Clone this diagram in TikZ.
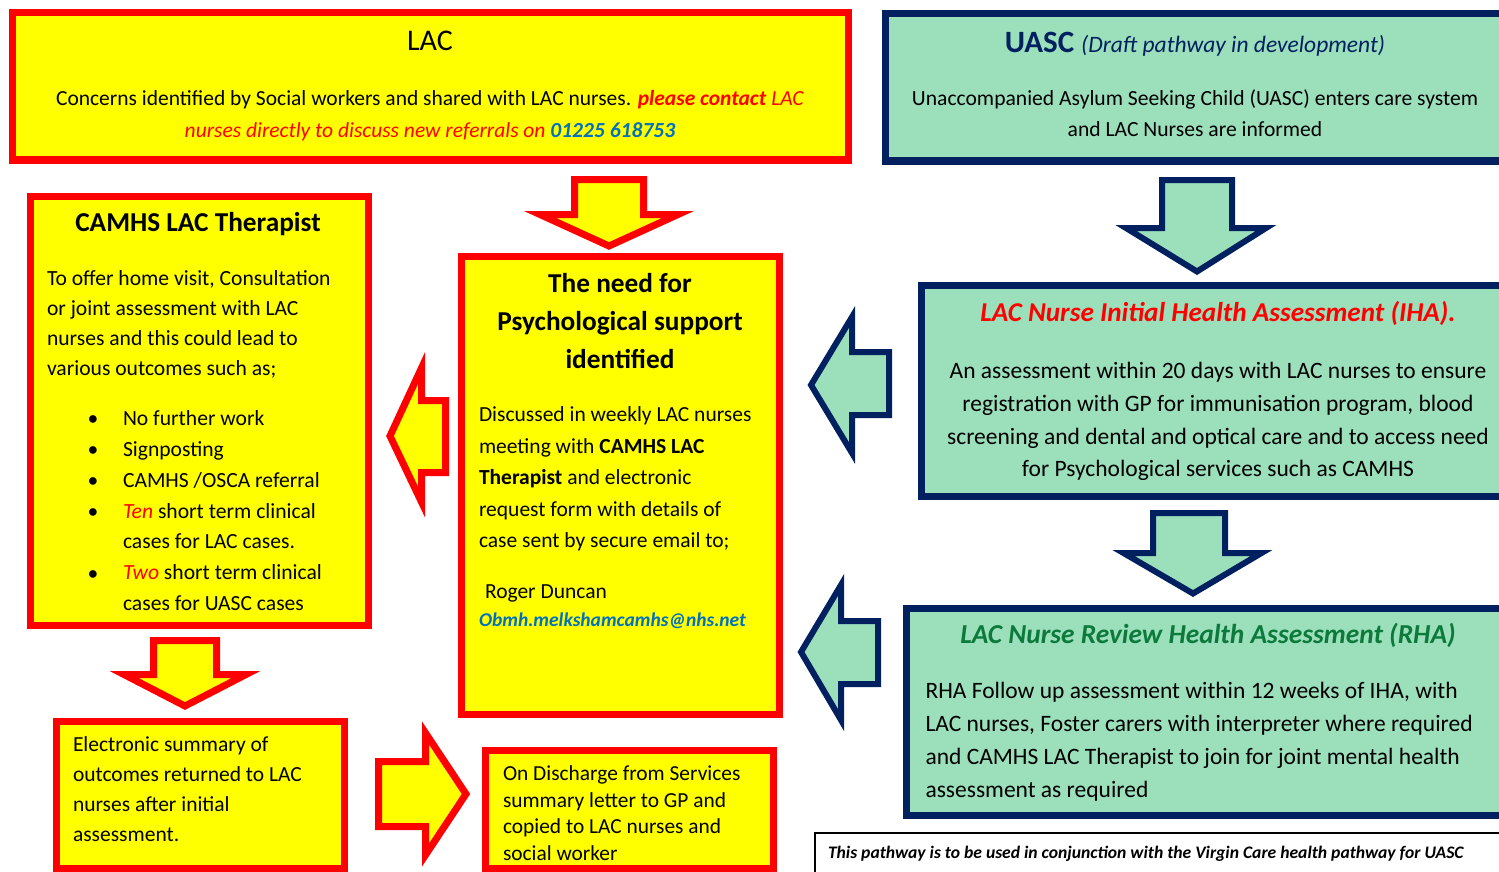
\documentclass[tikz,border=0pt]{standalone}
\usepackage{fontspec}
\setmainfont{Carlito}
\definecolor{lacyellow}{HTML}{FFFF00}
\definecolor{lacred}{HTML}{FF0000}
\definecolor{uascgreen}{HTML}{9BDFBB}
\definecolor{uascnavy}{HTML}{002060}
\definecolor{linkblue}{HTML}{0070C0}
\definecolor{rhagreen}{HTML}{0B7A3B}
\tikzset{
  redbox/.style={draw=lacred, fill=lacyellow, line width=7pt, inner sep=0pt, outer sep=0pt, anchor=north west},
  navybox/.style={draw=uascnavy, fill=uascgreen, line width=7pt, inner sep=0pt, outer sep=0pt, anchor=north west},
  redarrow/.style={draw=lacred, fill=lacyellow, line width=7pt, line join=miter, miter limit=10},
  navyarrow/.style={draw=uascnavy, fill=uascgreen, line width=6pt, line join=miter, miter limit=10},
  txt/.style={inner sep=0pt, outer sep=0pt},
}
\newcommand{\fs}[2]{\fontsize{#1}{#2}\selectfont}
\begin{document}
\begin{tikzpicture}[x=1pt,y=-1pt]
\useasboundingbox (0,0) rectangle (1499,872);
\clip (0,0) rectangle (1499,872);
% ---------- boxes ----------
\node[redbox, minimum width=836pt, minimum height=147pt] (lac) at (12,13) {};
\node[navybox, minimum width=624.5pt, minimum height=147.5pt] (uasc) at (885.5,13.5) {};
\node[redbox, minimum width=338pt, minimum height=429pt] (camhs) at (30.5,196.5) {};
\node[redbox, minimum width=318pt, minimum height=458pt] (psych) at (461.5,256.5) {};
\node[navybox, minimum width=588.5pt, minimum height=211pt] (iha) at (921.5,285.5) {};
\node[navybox, minimum width=603.5pt, minimum height=207pt] (rha) at (906.5,608.5) {};
\node[redbox, minimum width=288pt, minimum height=147pt] (elec) at (56.5,721.5) {};
\node[redbox, minimum width=288pt, minimum height=118pt] (disc) at (485.5,750.5) {};
\node[draw=black, line width=1.2pt, inner sep=0pt, outer sep=0pt, anchor=north west, minimum width=695pt, minimum height=67pt] (foot) at (815,833) {};
% ---------- block arrows ----------
\path[redarrow] (574.5,179.5) -- (643.5,179.5) -- (643.5,214.5) -- (678,214.5) -- (609,246) -- (540,214.5) -- (574.5,214.5) -- cycle;
\path[redarrow] (390,436) -- (421.5,368) -- (421.5,400.5) -- (445.5,400.5) -- (445.5,472.5) -- (421.5,472.5) -- (421.5,502) -- cycle;
\path[redarrow] (153.5,640.5) -- (216.5,640.5) -- (216.5,674.5) -- (246,674.5) -- (185,706) -- (124,674.5) -- (153.5,674.5) -- cycle;
\path[redarrow] (378.5,761.5) -- (425.5,761.5) -- (425.5,733) -- (466,794) -- (425.5,855) -- (425.5,826.5) -- (378.5,826.5) -- cycle;
\path[navyarrow] (1162,180) -- (1232,180) -- (1232,228) -- (1266,228) -- (1197,271.5) -- (1126,228) -- (1162,228) -- cycle;
\path[navyarrow] (1153,513) -- (1225,513) -- (1225,553) -- (1261.5,553) -- (1193,593.5) -- (1123.5,553) -- (1153,553) -- cycle;
\path[navyarrow] (811,385) -- (852,317) -- (852,352) -- (889,352) -- (889,415) -- (852,415) -- (852,453) -- cycle;
\path[navyarrow] (801,652) -- (841,585) -- (841,621) -- (878,621) -- (878,684) -- (841,684) -- (841,720) -- cycle;
% ---------- LAC (multi-line nodes: base = last line baseline) ----------
\node[txt, anchor=base, font=\fs{30}{32}] (lacT) at (430,51) {LAC};
\node[txt, anchor=base, font=\fs{21.5}{31.5}, align=center] (lacB) at (430,137.5)
  {Concerns identified by Social workers and shared with LAC nurses. {\color{lacred}\textbf{\textit{please contact}} \textit{LAC}}\\
   {\color{lacred}\textit{nurses directly to discuss new referrals on}} {\color{linkblue}\textbf{\textit{01225 618753}}}};
% ---------- UASC ----------
\node[txt, anchor=base, text=uascnavy] (uascT) at (1195,53) {{\fs{31}{34}\textbf{UASC}}\hspace{7pt}{\fs{23.5}{34}\textit{(Draft pathway in development)}}};
\node[txt, anchor=base, font=\fs{21.6}{31}, align=center] (uascB) at (1195,137)
  {Unaccompanied Asylum Seeking Child (UASC) enters care system\\ and LAC Nurses are informed};
% ---------- CAMHS ----------
\node[txt, anchor=base, font=\fs{27.3}{30}\bfseries] (camhsT) at (198,231.7) {CAMHS LAC Therapist};
\node[txt, anchor=base west, font=\fs{21.6}{30}, align=left] (camhsB) at (47,375)
  {To offer home visit, Consultation\\ or joint assessment with LAC\\ nurses and this could lead to\\ various outcomes such as;};
\node[txt, anchor=base, font=\fs{21.6}{30.9}, align=center] (camhsBul) at (93,580)
  {•\\ •\\ •\\ •\\ \strut\\ •};
\node[txt, anchor=base west, font=\fs{21.6}{30.9}, align=left] (camhsL) at (123,610.7)
  {No further work\\ Signposting\\ CAMHS /OSCA referral\\ {\color{lacred}\textit{Ten}} short term clinical\\ cases for LAC cases.\\ {\color{lacred}\textit{Two}} short term clinical\\ cases for UASC cases};
% ---------- Psychological ----------
\node[txt, anchor=base, font=\fs{27.3}{37.8}\bfseries, align=center] (psychT) at (620,368.3)
  {The need for\\ Psychological support\\ identified};
\node[txt, anchor=base west, font=\fs{21.5}{31.5}, align=left] (psychB) at (479,547.7)
  {Discussed in weekly LAC nurses\\ meeting with \textbf{CAMHS LAC}\\ \textbf{Therapist} and electronic\\ request form with details of\\ case sent by secure email to;};
\node[txt, anchor=base west, font=\fs{21.5}{30}] (psychR) at (485,598.3) {Roger Duncan};
\node[txt, anchor=base west, font=\fs{19.5}{30}\bfseries\itshape, text=linkblue] (psychE) at (479,626.7) {Obmh.melkshamcamhs@nhs.net};
% ---------- IHA ----------
\node[txt, anchor=base, font=\fs{27.2}{30}\bfseries\itshape, text=lacred] (ihaT) at (1218,321.7) {LAC Nurse Initial Health Assessment (IHA).};
\node[txt, anchor=base, font=\fs{23.5}{32.6}, align=center] (ihaB) at (1218,476.7)
  {An assessment within 20 days with LAC nurses to ensure\\ registration with GP for immunisation program, blood\\ screening and dental and optical care and to access need\\ for Psychological services such as CAMHS};
% ---------- RHA ----------
\node[txt, anchor=base, font=\fs{27.4}{30}\bfseries\itshape, text=rhagreen] (rhaT) at (1208,643.3) {LAC Nurse Review Health Assessment (RHA)};
\node[txt, anchor=base west, font=\fs{23.5}{33}, align=left] (rhaB) at (925.5,797.3)
  {RHA Follow up assessment within 12 weeks of IHA, with\\ LAC nurses, Foster carers with interpreter where required\\ and CAMHS LAC Therapist to join for joint mental health\\ assessment as required};
% ---------- bottom boxes ----------
\node[txt, anchor=base west, font=\fs{21.5}{30}, align=left] (elecB) at (73,841.7)
  {Electronic summary of\\ outcomes returned to LAC\\ nurses after initial\\ assessment.};
\node[txt, anchor=base west, font=\fs{21.4}{26.4}, align=left] (discB) at (503,860)
  {On Discharge from Services\\ summary letter to GP and\\ copied to LAC nurses and\\ social worker};
\node[txt, anchor=base west, font=\fs{17.6}{20}\bfseries\itshape] (footB) at (828,858.3)
  {This pathway is to be used in conjunction with the Virgin Care health pathway for UASC};
\end{tikzpicture}
\end{document}
